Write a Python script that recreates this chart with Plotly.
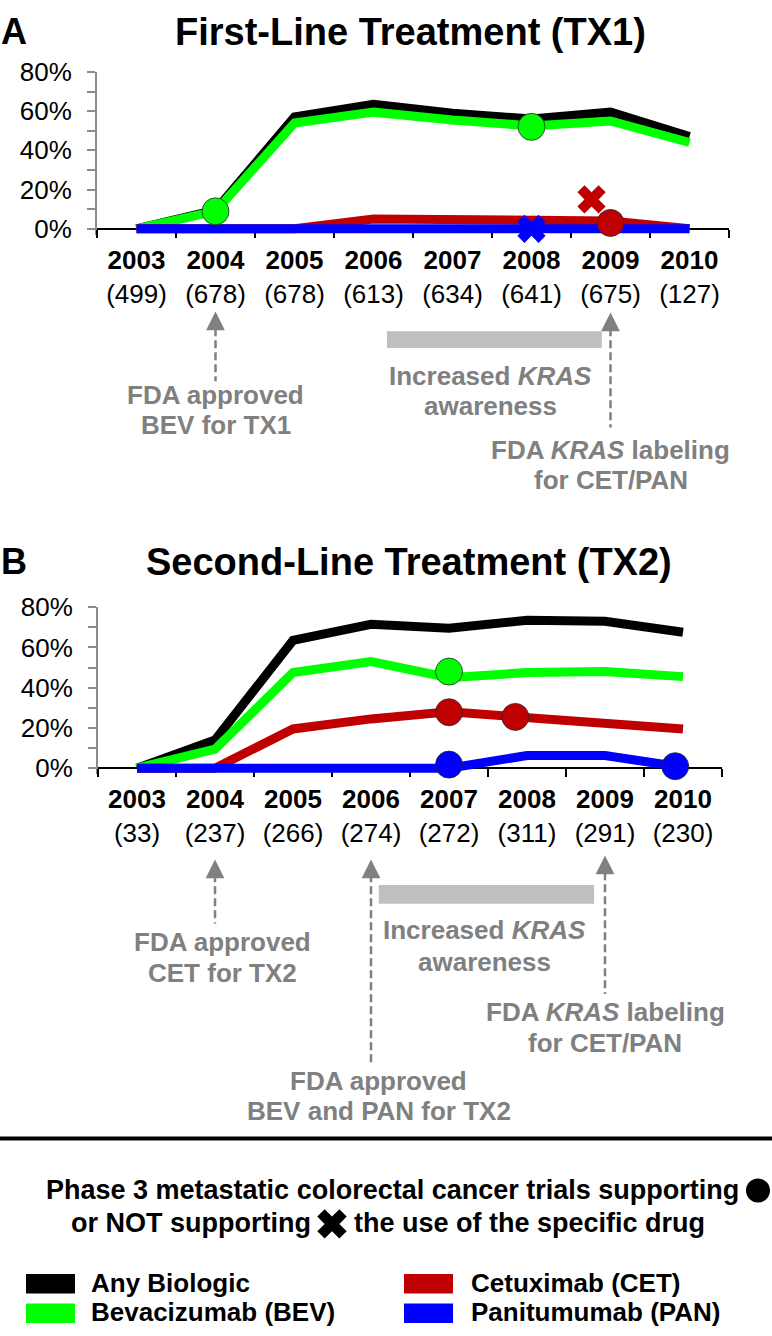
import plotly.graph_objects as go

W, H = 772, 1336
FONT = "Liberation Sans, Arial, sans-serif"
GRAY_TXT = "#808080"
GRAY_AX = "#8c8c8c"

# ---------------- data ----------------
years = [2003, 2004, 2005, 2006, 2007, 2008, 2009, 2010]
tx1_n = [499, 678, 678, 613, 634, 641, 675, 127]
tx2_n = [33, 237, 266, 274, 272, 311, 291, 230]

series_names = ["Any Biologic", "Bevacizumab (BEV)", "Cetuximab (CET)", "Panitumumab (PAN)"]
series_colors = ["#000000", "#00ff00", "#c00000", "#0000ff"]

tx1_any = [0, 9.5, 57, 63.5, 59, 56, 59.5, 47]
tx1_bev = [0, 9, 54, 59.5, 55.5, 52.5, 55, 44]
tx1_cet = [0, 0, 0, 5, 4.5, 4, 4, 0]
tx1_pan = [0, 0, 0, 0, 0, 0, 0, 0]

tx2_any = [0, 14, 63.5, 71.5, 69.5, 73.5, 73, 67.5]
tx2_bev = [0, 9.5, 47.5, 53, 45, 47.5, 48, 45.5]
tx2_cet = [0, 0, 19.5, 24.5, 28, 25.5, 22, 19.5]
tx2_pan = [0, 0, 0, 0, 0, 6.3, 6.3, 0.5]

# phase 3 trial markers (supporting = circle, not supporting = X)
tx1_bev_sup_x, tx1_bev_sup_y = [2004, 2008], [8.9, 52]
tx1_cet_sup_x, tx1_cet_sup_y = [2009], [3]
tx1_cet_not_x, tx1_cet_not_y = [2008.76], [15]
tx1_pan_not_x, tx1_pan_not_y = [2008], [0]

tx2_bev_sup_x, tx2_bev_sup_y = [2007], [48]
tx2_cet_sup_x, tx2_cet_sup_y = [2007, 2007.85], [27.8, 25.5]
tx2_pan_sup_x, tx2_pan_sup_y = [2007, 2009.9], [1.8, 1]

y_tickvals = [0, 20, 40, 60, 80]
y_ticktext = ["0%", "20%", "40%", "60%", "80%"]


def py(px):
    return 1 - px / H


def px_x(px):
    return px / W


fig = go.Figure()


def add_panel(xa, ya, series, trials):
    for name, col, vals in zip(series_names, series_colors, series):
        fig.add_trace(go.Scatter(
            x=years, y=vals, mode="lines", name=name,
            line=dict(color=col, width=9), xaxis=xa, yaxis=ya,
            showlegend=False, hoverinfo="skip"))
    for (tx, ty, col, sym) in trials:
        fig.add_trace(go.Scatter(
            x=tx, y=ty, mode="markers", xaxis=xa, yaxis=ya, cliponaxis=False,
            marker=dict(symbol=sym, size=27 if sym == "circle" else 25, color=col,
                        line=dict(color="rgba(40,40,40,0.8)", width=1 if sym == "circle" else 0)),
            showlegend=False, hoverinfo="skip"))


add_panel("x", "y", [tx1_any, tx1_bev, tx1_cet, tx1_pan], [
    (tx1_bev_sup_x, tx1_bev_sup_y, series_colors[1], "circle"),
    (tx1_cet_not_x, tx1_cet_not_y, series_colors[2], "x"),
    (tx1_pan_not_x, tx1_pan_not_y, series_colors[3], "x"),
    (tx1_cet_sup_x, tx1_cet_sup_y, series_colors[2], "circle"),
])
add_panel("x2", "y2", [tx2_any, tx2_bev, tx2_cet, tx2_pan], [
    (tx2_bev_sup_x, tx2_bev_sup_y, series_colors[1], "circle"),
    (tx2_cet_sup_x, tx2_cet_sup_y, series_colors[2], "circle"),
    (tx2_pan_sup_x, tx2_pan_sup_y, series_colors[3], "circle"),
])

# legend glyphs on a full-page pixel overlay
fig.add_trace(go.Scatter(x=[758], y=[1197], mode="markers", xaxis="x3", yaxis="y3",
                         marker=dict(symbol="circle", size=24, color="black"),
                         cliponaxis=False, showlegend=False, hoverinfo="skip"))
fig.add_trace(go.Scatter(x=[332], y=[1231], mode="markers", xaxis="x3", yaxis="y3",
                         marker=dict(symbol="x", size=26, color="black"),
                         cliponaxis=False, showlegend=False, hoverinfo="skip"))


def xaxis_cfg(dom, pos, counts):
    return dict(
        domain=dom, range=[2002.5, 2010.5], anchor="free", position=pos,
        tickmode="array", tickvals=years,
        ticktext=[f"<b>{y}</b><br>({n})" for y, n in zip(years, counts)],
        ticks="", showline=True, linecolor="black", linewidth=2,
        layer="below traces", showgrid=False, zeroline=False,
        tickfont=dict(family=FONT, size=26, color="black"),
        ticklabelstandoff=8,
        minor=dict(tickmode="linear", tick0=2002.5, dtick=1, ticks="outside",
                   ticklen=8, tickwidth=2, tickcolor="black", showgrid=False),
        fixedrange=True)


def yaxis_cfg(dom, anchor):
    return dict(
        domain=dom, anchor=anchor, range=[-3, 80],
        tickmode="array", tickvals=y_tickvals, ticktext=y_ticktext,
        ticks="outside", ticklen=8, tickwidth=2, tickcolor=GRAY_AX,
        showline=True, linecolor=GRAY_AX, linewidth=2, layer="below traces",
        showgrid=False, zeroline=False,
        tickfont=dict(family=FONT, size=26, color="black"),
        ticklabelstandoff=10,
        minor=dict(tickmode="linear", tick0=0, dtick=10, ticks="outside",
                   ticklen=8, tickwidth=2, tickcolor=GRAY_AX, showgrid=False),
        fixedrange=True)


# panel geometry (pixels)
p1_top, p1_zero, p1_ppu = 58, 217.7, (217.7 - 58) / 80
p2_top, p2_zero, p2_ppu = 603, 767, (767 - 603) / 80
p1_bot = p1_zero + 3 * p1_ppu
p2_bot = p2_zero + 3 * p2_ppu

fig.update_layout(
    width=W, height=H, margin=dict(l=0, r=0, t=0, b=0),
    paper_bgcolor="white", plot_bgcolor="rgba(0,0,0,0)",
    showlegend=False,
    font=dict(family=FONT, color="black"),
    xaxis=xaxis_cfg([px_x(97), px_x(729)], py(p1_zero), tx1_n),
    yaxis=yaxis_cfg([py(p1_bot), py(p1_top)], "x"),
    xaxis2=xaxis_cfg([px_x(98), px_x(722)], py(p2_zero), tx2_n),
    yaxis2=yaxis_cfg([py(p2_bot), py(p2_top)], "x2"),
    xaxis3=dict(domain=[0, 1], range=[0, W], anchor="y3", visible=False, fixedrange=True),
    yaxis3=dict(domain=[0, 1], range=[H, 0], anchor="x3", visible=False, fixedrange=True),
)

ann = []
shapes = []


def text(x, y, s, size=26, color="black", xref="paper", xanchor="center"):
    ann.append(dict(x=x, y=py(y), xref=xref, yref="paper", text=s, showarrow=False,
                    xanchor=xanchor, yanchor="middle", borderpad=0,
                    font=dict(family=FONT, size=size, color=color)))


def arrow(xref, xv, tip, base, end):
    ann.append(dict(x=xv, y=py(tip), xref=xref, yref="paper", text="", showarrow=True,
                    ax=0, ay=base - tip, arrowhead=2, arrowsize=1.5, arrowwidth=2.5,
                    arrowcolor=GRAY_TXT, standoff=0))
    shapes.append(dict(type="line", xref=xref, yref="paper", x0=xv, x1=xv,
                       y0=py(base - 1), y1=py(end),
                       line=dict(color=GRAY_TXT, width=2.5, dash="8px,4px")))


def bar(xref, x0, x1, y0, y1):
    shapes.append(dict(type="rect", xref=xref, yref="paper", x0=x0, x1=x1,
                       y0=py(y1), y1=py(y0), fillcolor="#bfbfbf", line=dict(width=0)))


# titles
text(px_x(0), 17, "<b>A</b>", size=36, xanchor="left")
text(px_x(410), 17, "<b>First-Line Treatment (TX1)</b>", size=38)
text(px_x(0), 557, "<b>B</b>", size=36, xanchor="left")
text(px_x(409), 557, "<b>Second-Line Treatment (TX2)</b>", size=38)

# panel A annotations
arrow("x", 2004, 302, 320, 373)
text(2004, 387, "<b>FDA approved</b>", color=GRAY_TXT, xref="x")
text(2004, 418, "<b>BEV for TX1</b>", color=GRAY_TXT, xref="x")
bar("x", 2006.17, 2008.89, 322, 339)
text(2007.48, 368, "<b>Increased <i>KRAS</i></b>", color=GRAY_TXT, xref="x")
text(2007.48, 398, "<b>awareness</b>", color=GRAY_TXT, xref="x")
arrow("x", 2009, 303, 320, 420)
text(2009, 443, "<b>FDA <i>KRAS</i> labeling</b>", color=GRAY_TXT, xref="x")
text(2009, 473, "<b>for CET/PAN</b>", color=GRAY_TXT, xref="x")

# panel B annotations
arrow("x2", 2004, 860, 876, 925)
text(2004.1, 944, "<b>FDA approved</b>", color=GRAY_TXT, xref="x2")
text(2004.1, 976, "<b>CET for TX2</b>", color=GRAY_TXT, xref="x2")
arrow("x2", 2006, 860, 876, 1068)
text(2006.1, 1085, "<b>FDA approved</b>", color=GRAY_TXT, xref="x2")
text(2006.1, 1116, "<b>BEV and PAN for TX2</b>", color=GRAY_TXT, xref="x2")
bar("x2", 2006.1, 2008.86, 886, 905)
text(2007.45, 932, "<b>Increased <i>KRAS</i></b>", color=GRAY_TXT, xref="x2")
text(2007.45, 964, "<b>awareness</b>", color=GRAY_TXT, xref="x2")
arrow("x2", 2009, 856, 874, 997)
text(2009, 1015, "<b>FDA <i>KRAS</i> labeling</b>", color=GRAY_TXT, xref="x2")
text(2009, 1047, "<b>for CET/PAN</b>", color=GRAY_TXT, xref="x2")

# separator
shapes.append(dict(type="line", xref="paper", yref="paper", x0=0, x1=1,
                   y0=py(1144), y1=py(1144), line=dict(color="black", width=4)))

# key
text(px_x(740), 1197, "<b>Phase 3 metastatic colorectal cancer trials supporting</b>", size=27, xanchor="right")
text(px_x(312), 1230, "<b>or NOT supporting</b>", size=27, xanchor="right")
text(px_x(353), 1230, "<b>the use of the specific drug</b>", size=27, xanchor="left")

legend_pos = [(26, 1282, 90), (26, 1312, 90), (404, 1282, 470), (404, 1312, 470)]
for (sx, sy, tx), name, col in zip(legend_pos, series_names, series_colors):
    shapes.append(dict(type="rect", xref="paper", yref="paper",
                       x0=px_x(sx), x1=px_x(sx + 49), y0=py(sy + 20), y1=py(sy),
                       fillcolor=col, line=dict(width=0)))
    text(px_x(tx), sy + 9, f"<b>{name}</b>", xanchor="left")

fig.update_layout(annotations=ann, shapes=shapes)
fig.write_html("out.html", config={"displayModeBar": False, "staticPlot": True},
               post_script="document.body.style.margin='0';document.body.style.overflow='hidden';")
